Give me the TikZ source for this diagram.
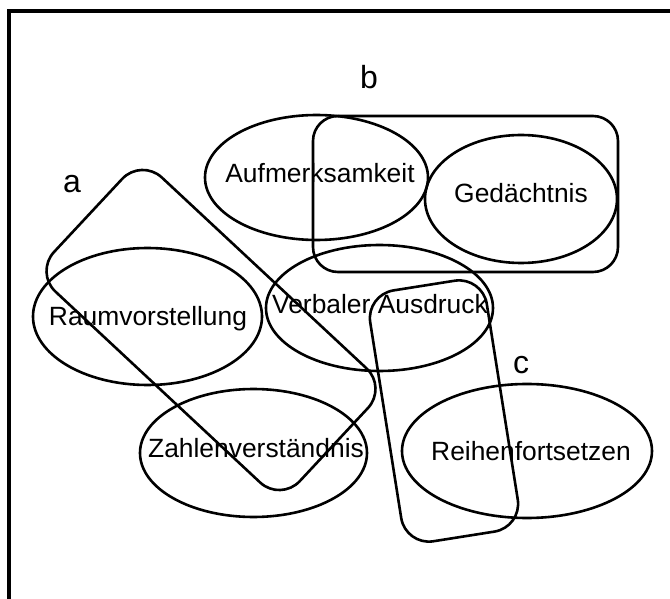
\documentclass[tikz,border=0pt]{standalone}
\usepackage{fontspec}
\setmainfont{Liberation Sans}
\usetikzlibrary{shapes.geometric}
\begin{document}
\begin{tikzpicture}[x=1pt,y=-1pt,
  setshape/.style={draw, line width=2.6pt, ellipse, inner sep=0pt},
  groupbox/.style={draw, line width=2.6pt, rectangle, inner sep=0pt},
  lbl/.style={anchor=base, inner sep=0pt, font=\fontsize{26.4}{30}\selectfont},
  grp/.style={anchor=base, inner sep=0pt, font=\fontsize{32}{36}\selectfont},
  frame/.style={line width=3.5pt}]
\useasboundingbox (0,0) rectangle (670,599);
% frame (top and left edges visible)
\coordinate (fbl) at (9,599);
\coordinate (ftl) at (9,11);
\coordinate (ftr) at (670,11);
\draw[frame] (fbl) -- (ftl) -- (ftr);
% ellipses
\node[setshape, minimum width=223pt, minimum height=125pt] (aufm) at (316.5,177.5) {};
\node[setshape, minimum width=192pt, minimum height=128pt] (gedae) at (521,199) {};
\node[setshape, minimum width=229pt, minimum height=137pt] (raum) at (147.5,316.5) {};
\node[setshape, minimum width=227pt, minimum height=126pt] (verb) at (379.5,308) {};
\node[setshape, minimum width=227pt, minimum height=128pt] (zahl) at (253.5,453) {};
\node[setshape, minimum width=250pt, minimum height=134pt] (reihe) at (527,451) {};
% group boxes
\node[groupbox, rounded corners=25pt, minimum width=305pt, minimum height=156pt] (setb) at (465.5,194) {};
\node[groupbox, rounded corners=28pt, minimum width=336pt, minimum height=156pt, rotate=-43] (seta) at (211,330) {};
\node[groupbox, rounded corners=28pt, minimum width=118pt, minimum height=254pt, rotate=9] (setc) at (444,411) {};
% texts
\node[lbl] (taufm) at (320,183) {Aufmerksamkeit};
\node[lbl] (tgedae) at (521,203) {Gedächtnis};
\node[lbl] (traum) at (148,325) {Raumvorstellung};
\node[lbl] (tverb) at (380,313) {Verbaler Ausdruck};
\node[lbl] (tzahl) at (256,457) {Zahlenverständnis};
\node[lbl] (treihe) at (531,460) {Reihenfortsetzen};
% group labels
\node[grp] (la) at (72,193) {a};
\node[grp] (lb) at (369,89) {b};
\node[grp] (lc) at (521,373) {c};
\end{tikzpicture}
\end{document}
